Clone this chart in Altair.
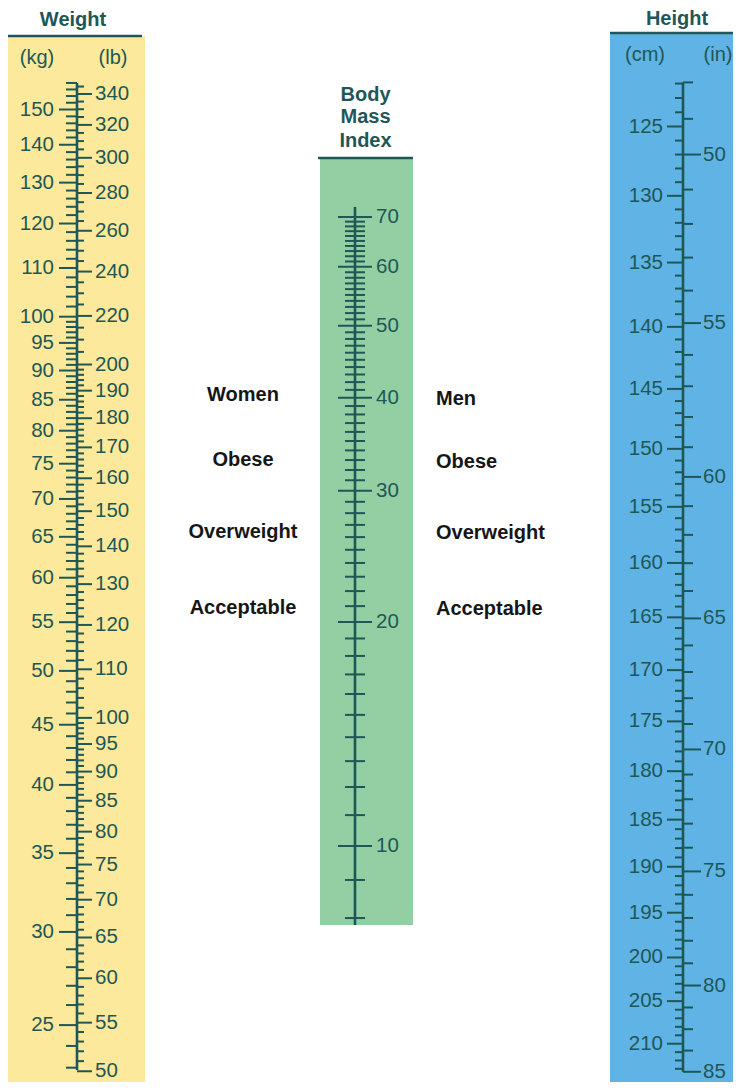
import math
import altair as alt
import pandas as pd

# page placement of the chart (top-left of the view in page pixels)
OX, OY = 8, 8
W, H = 725, 1074

TEAL = "#1f5757"
INK = "#161616"
FONT = "Liberation Sans"
YELLOW = "#fce99b"
GREEN = "#93cfa2"
BLUE = "#5fb4e5"
NUM_SIZE = 20.5

# ---------------- data ----------------
# Weight column (kg left side, lb right side)
kg_major = [25, 30, 35, 40, 45, 50, 55, 60, 65, 70, 75, 80, 85, 90, 95, 100,
            110, 120, 130, 140, 150]
kg_minor = [v for v in range(23, 100) if v % 5] + [v for v in range(102, 159, 2) if v % 10]
lb_major = [50, 55, 60, 65, 70, 75, 80, 85, 90, 95, 100, 110, 120, 130, 140, 150,
            160, 170, 180, 190, 200, 220, 240, 260, 280, 300, 320, 340]
lb_minor = ([v for v in range(51, 100) if v % 5] + [v for v in range(102, 200, 2) if v % 10]
            + [v for v in range(205, 350, 5) if v % 20])
kg_line = [22.9, 158]
kg_band_top = 173.2

# Body Mass Index column
bmi_major = [10, 20, 30, 40, 50, 60, 70]
bmi_minor = [v for v in range(8, 70) if v % 10]
bmi_band = [7.83, 84.0]
bmi_line = [7.83, 72.2]

women_text = ["Women", "Obese", "Overweight", "Acceptable"]
women_bmi = [40.4, 33.0, 26.4, 20.9]
men_text = ["Men", "Obese", "Overweight", "Acceptable"]
men_bmi = [39.9, 32.8, 26.3, 20.8]

# Height column (cm left side, in right side)
cm_major = [125, 130, 135, 140, 145, 150, 155, 160, 165, 170, 175, 180, 185, 190,
            195, 200, 205, 210]
cm_minor = [v for v in range(122, 214) if v % 5]
in_major_text = [50, 55, 60, 65, 70, 75, 80, 85]
in_major_pos = [50, 55, 60, 65, 70, 75, 80, 84]   # printed "85" sits on the 84-in mark
in_minor = [v for v in range(48, 84) if v % 5]
cm_band_top = 118.56
in_line = [48, 84]

# ---------------- scale domains (log scales fitted to the printed nomogram) ----------------
TOP, BOT = OY, OY + H
kg_domain = [150 * math.exp(-(BOT - 109.5) / 511), 150 * math.exp((109.5 - TOP) / 511)]
lb_domain = [340 * math.exp(-(BOT - 94) / 509.8), 340 * math.exp((94 - TOP) / 509.8)]
bmi_domain = [70 * math.exp(-(BOT - 217) / 323.2), 70 * math.exp((217 - TOP) / 323.2)]
cm_domain = [125 * math.exp(-(126.5 - TOP) / 1768), 125 * math.exp((BOT - 126.5) / 1768)]
in_domain = [cm_domain[0] / 2.54, cm_domain[1] / 2.54]


# ---------------- helpers ----------------
def px(x):
    return x - OX


def py(y):
    return y - OY


def yenc(field, dom, rev=False):
    return alt.Y(f"{field}:Q", scale=alt.Scale(type="log", domain=dom, nice=False, reverse=rev),
                 axis=None)


def ticks(values, dom, x1, x2, rev=False, sw=2):
    df = pd.DataFrame({"v": values})
    return alt.Chart(df).mark_rule(color=TEAL, strokeWidth=sw).encode(
        y=yenc("v", dom, rev), x=alt.value(px(x1)), x2=alt.value(px(x2)))


def labels(values, texts, dom, x, align, rev=False, size=NUM_SIZE, color=TEAL, bold=False):
    df = pd.DataFrame({"v": values, "t": [str(t) for t in texts]})
    return alt.Chart(df).mark_text(
        align=align, baseline="middle", font=FONT, fontSize=size, color=color,
        fontWeight="bold" if bold else "normal").encode(
        y=yenc("v", dom, rev), x=alt.value(px(x)), text="t:N")


def band(lo, hi, dom, x1, x2, color, rev=False):
    df = pd.DataFrame({"a": [lo], "b": [hi]})
    return alt.Chart(df).mark_rect(color=color).encode(
        y=yenc("a", dom, rev), y2="b:Q", x=alt.value(px(x1)), x2=alt.value(px(x2)))


def hline(val, dom, x1, x2, rev=False):
    df = pd.DataFrame({"v": [val]})
    return alt.Chart(df).mark_rule(color=TEAL, strokeWidth=2.5).encode(
        y=yenc("v", dom, rev), x=alt.value(px(x1)), x2=alt.value(px(x2)))


def vline(rng, dom, x, rev=False):
    df = pd.DataFrame({"a": [rng[0]], "b": [rng[1]]})
    return alt.Chart(df).mark_rule(color=TEAL, strokeWidth=2.6).encode(
        y=yenc("a", dom, rev), y2="b:Q", x=alt.value(px(x)))


def header(text, x, y, bold=False, size=20):
    df = pd.DataFrame({"t": [text]})
    return alt.Chart(df).mark_text(
        align="center", baseline="middle", font=FONT, fontSize=size, color=TEAL,
        fontWeight="bold" if bold else "normal").encode(
        x=alt.value(px(x)), y=alt.value(py(y)), text="t:N")


RIGHT = OX + W

layers = []

# ---- Weight ----
layers += [
    band(kg_domain[0], kg_band_top, kg_domain, 8, 145, YELLOW),
    hline(kg_band_top, kg_domain, 8, 142),
    vline(kg_line, kg_domain, 77),
    ticks(kg_major, kg_domain, 59, 77),
    ticks(kg_minor, kg_domain, 66, 77),
    labels(kg_major, kg_major, kg_domain, 54, "right"),
    ticks(lb_major, lb_domain, 77, 92),
    ticks(lb_minor, lb_domain, 77, 84),
    labels(lb_major, lb_major, lb_domain, 95, "left"),
    header("Weight", 73, 20, bold=True),
    header("(kg)", 37, 58),
    header("(lb)", 113, 58),
]

# ---- BMI ----
layers += [
    band(bmi_band[0], bmi_band[1], bmi_domain, 320, 413, GREEN),
    hline(bmi_band[1], bmi_domain, 318, 413),
    vline(bmi_line, bmi_domain, 355),
    ticks(bmi_major, bmi_domain, 338, 372),
    ticks(bmi_minor, bmi_domain, 345, 365),
    labels(bmi_major, bmi_major, bmi_domain, 376, "left"),
    header("Body", 365.5, 95, bold=True),
    header("Mass", 365.5, 117, bold=True),
    header("Index", 365.5, 141, bold=True),
    labels(women_bmi, women_text, bmi_domain, 243, "center", size=20, color=INK, bold=True),
    labels(men_bmi, men_text, bmi_domain, 436, "left", size=20, color=INK, bold=True),
]

# ---- Height ----
layers += [
    band(cm_band_top, cm_domain[1], cm_domain, 610, RIGHT, BLUE, rev=True),
    hline(cm_band_top, cm_domain, 610, RIGHT, rev=True),
    vline(in_line, in_domain, 683, rev=True),
    ticks(cm_major, cm_domain, 667, 683, rev=True),
    ticks(cm_minor, cm_domain, 675, 683, rev=True),
    labels(cm_major, cm_major, cm_domain, 663, "right", rev=True),
    ticks(in_major_pos, in_domain, 683, 701, rev=True),
    ticks(in_minor, in_domain, 683, 693, rev=True),
    labels(in_major_pos, in_major_text, in_domain, 703, "left", rev=True),
    header("Height", 677, 19, bold=True),
    header("(cm)", 645, 55),
    header("(in)", 718, 55),
]

chart = alt.layer(*layers).resolve_scale(y="independent").properties(
    width=W, height=H, autosize=alt.AutoSizeParams(type="none"), padding=0,
    background="white",
).configure_view(stroke=None)

chart.save("out.html", embed_options={"renderer": "svg", "actions": False})
